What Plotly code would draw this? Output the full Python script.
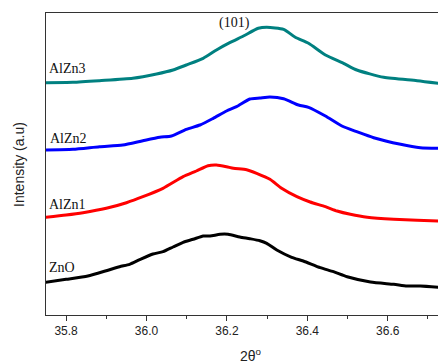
import plotly.graph_objects as go

# 2theta (deg) and intensity (a.u., offset stacked)
x_alzn3 = [35.748, 35.817, 35.883, 35.966, 36.025, 36.066, 36.099, 36.141, 36.174, 36.207, 36.241,
           36.278, 36.299, 36.341, 36.370, 36.403, 36.445, 36.490, 36.523, 36.590, 36.673, 36.726]
y_alzn3 = [232.3, 232.7, 234.3, 236.7, 241.0, 245.0, 250.0, 256.7, 265.0, 272.3, 279.0,
           286.7, 287.7, 285.7, 277.7, 271.7, 260.0, 251.7, 245.0, 237.7, 234.3, 231.7]

x_alzn2 = [35.748, 35.817, 35.883, 35.941, 35.991, 36.033, 36.062, 36.099, 36.133, 36.166, 36.199,
           36.224, 36.257, 36.282, 36.307, 36.341, 36.378, 36.403, 36.445, 36.486, 36.523, 36.565,
           36.632, 36.681, 36.726]
y_alzn2 = [165.0, 165.7, 168.3, 170.0, 174.3, 177.7, 179.0, 185.7, 190.0, 196.7, 204.0,
           208.3, 216.0, 217.0, 218.0, 216.3, 210.0, 207.7, 199.0, 189.0, 183.3, 177.3,
           170.7, 167.3, 166.7]

x_alzn1 = [35.748, 35.800, 35.842, 35.900, 35.950, 35.991, 36.041, 36.091, 36.124, 36.153, 36.174,
           36.199, 36.216, 36.249, 36.274, 36.307, 36.336, 36.374, 36.407, 36.445, 36.474, 36.507,
           36.549, 36.615, 36.673, 36.726]
y_alzn1 = [97.7, 100.0, 102.3, 106.7, 112.3, 118.3, 126.7, 138.3, 144.0, 149.3, 150.0,
           148.3, 146.7, 145.3, 141.7, 135.7, 126.7, 118.3, 113.0, 108.3, 104.0, 100.7,
           97.7, 95.7, 94.7, 94.0]

x_zno = [35.748, 35.800, 35.854, 35.900, 35.933, 35.958, 35.983, 36.016, 36.041, 36.066, 36.091,
         36.116, 36.141, 36.158, 36.183, 36.203, 36.232, 36.257, 36.282, 36.299, 36.324, 36.361,
         36.390, 36.432, 36.465, 36.499, 36.557, 36.615, 36.648, 36.681, 36.726]
y_zno = [32.7, 35.7, 39.0, 44.3, 48.3, 50.7, 55.3, 61.0, 63.3, 68.0, 72.7,
         75.7, 79.0, 79.0, 80.7, 80.7, 78.0, 76.3, 74.3, 71.7, 65.0, 57.7,
         54.0, 47.3, 43.3, 38.3, 33.0, 30.7, 29.0, 29.0, 27.7]

series_names = ["AlZn3", "AlZn2", "AlZn1", "ZnO"]
series_colors = ["#008080", "#0000FF", "#FF0000", "#000000"]
label_x = [35.752, 35.755, 35.752, 35.752]
label_y = [247, 177, 111, 48]

x_tickvals = [35.8, 36.0, 36.2, 36.4, 36.6]
x_ticktext = ["35.8", "36.0", "36.2", "36.4", "36.6"]

peak_label = "(101)"
peak_x = 36.2196
peak_y = 292

fig = go.Figure()
xs = [x_alzn3, x_alzn2, x_alzn1, x_zno]
ys = [y_alzn3, y_alzn2, y_alzn1, y_zno]
for name, col, xv, yv in zip(series_names, series_colors, xs, ys):
    fig.add_trace(go.Scatter(x=xv, y=yv, mode="lines", name=name,
                             line=dict(color=col, width=3, shape="spline", smoothing=0.6),
                             showlegend=False))

for name, lx, ly in zip(series_names, label_x, label_y):
    fig.add_annotation(x=lx, y=ly, xref="x", yref="y", text=name, showarrow=False,
                       xanchor="left", yanchor="middle",
                       font=dict(family="Liberation Serif", size=14, color="#111"))

fig.add_annotation(x=peak_x, y=peak_y, xref="x", yref="y", text=peak_label, showarrow=False,
                   xanchor="center", yanchor="middle",
                   font=dict(family="Liberation Serif", size=14, color="#111"))

fig.add_annotation(x=-0.069, y=0.5, xref="paper", yref="paper", text="Intensity (a.u)",
                   showarrow=False, textangle=-90, xanchor="center", yanchor="middle",
                   font=dict(family="Liberation Sans", size=14, color="#222"))
fig.add_annotation(x=0.524, y=-0.133, xref="paper", yref="paper", text="2θ<sup>o</sup>",
                   showarrow=False, xanchor="center", yanchor="middle",
                   font=dict(family="Liberation Sans", size=14, color="#222"))

fig.update_layout(
    width=438, height=363,
    margin=dict(l=46, r=0, t=13, b=48),
    paper_bgcolor="white", plot_bgcolor="white",
    xaxis=dict(range=[35.75, 36.725], tickvals=x_tickvals, ticktext=x_ticktext,
               showgrid=False, zeroline=False, showline=True, linecolor="#333", linewidth=1,
               mirror=True, ticks="outside", ticklen=5, tickcolor="#333",
               minor=dict(dtick=0.1, tick0=35.7, ticks="outside", ticklen=3, tickcolor="#333"),
               tickfont=dict(family="Liberation Sans", size=12, color="#222")),
    yaxis=dict(range=[0, 302], showticklabels=False, ticks="", showgrid=False,
               zeroline=False, showline=True, linecolor="#333", linewidth=1),
)

fig.write_html("out.html", config={"displayModeBar": False},
               post_script="document.body.style.margin='0px';document.body.style.padding='0px';")
